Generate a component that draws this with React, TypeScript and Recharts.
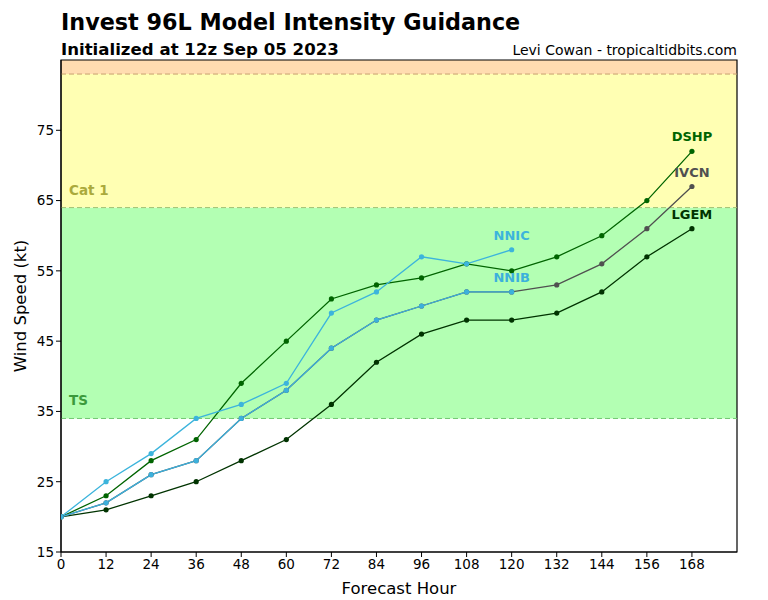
import { LineChart, Line, XAxis, YAxis, ReferenceArea, ReferenceLine, LabelList } from 'recharts';

const hours = [0, 12, 24, 36, 48, 60, 72, 84, 96, 108, 120, 132, 144, 156, 168];
const dshp = [20, 23, 28, 31, 39, 45, 51, 53, 54, 56, 55, 57, 60, 65, 72];
const ivcn = [20, 22, 26, 28, 34, 38, 44, 48, 50, 52, 52, 53, 56, 61, 67];
const lgem = [20, 21, 23, 25, 28, 31, 36, 42, 46, 48, 48, 49, 52, 57, 61];
const nnic = [20, 25, 29, 34, 36, 39, 49, 52, 57, 56, 58];
const nnib = [20, 22, 26, 28, 34, 38, 44, 48, 50, 52, 52];
const xTicks = [0, 12, 24, 36, 48, 60, 72, 84, 96, 108, 120, 132, 144, 156, 168];
const yTicks = [15, 25, 35, 45, 55, 65, 75];

const data = hours.map((h, i) => ({
  hour: h,
  DSHP: dshp[i],
  IVCN: ivcn[i],
  LGEM: lgem[i],
  NNIC: nnic[i],
  NNIB: nnib[i],
}));

const font = 'DejaVu Sans, sans-serif';

// label only the last point of each model
const endLabel = (name: string, color: string, count: number) => (props: any) => {
  if (props.index !== count - 1) return null;
  return (
    <text x={props.x} y={props.y - 10} textAnchor="middle" fill={color}
      fontFamily={font} fontSize={13} fontWeight="bold">
      {name}
    </text>
  );
};

const models = [
  { key: 'DSHP', color: '#006400', n: dshp.length },
  { key: 'LGEM', color: '#003300', n: lgem.length },
  { key: 'IVCN', color: '#505050', n: ivcn.length },
  { key: 'NNIC', color: '#3cb4dc', n: nnic.length },
  { key: 'NNIB', color: '#3cb0dc', n: nnib.length },
];

const yLabel = (props: any) => {
  const vb = props.viewBox;
  const cx = 20;
  const cy = vb.y + vb.height / 2;
  return (
    <text x={cx} y={cy} transform={`rotate(-90, ${cx}, ${cy})`} textAnchor="middle"
      dominantBaseline="central" fill="#000" fontSize={16.5} fontFamily={font}>
      Wind Speed (kt)
    </text>
  );
};

const xLabel = (props: any) => {
  const vb = props.viewBox;
  return (
    <text x={vb.x + vb.width / 2} y={594} textAnchor="middle" fill="#000" fontSize={16.5} fontFamily={font}>
      Forecast Hour
    </text>
  );
};

// band name just above a threshold line, near the left edge
const bandLabel = (text: string, color: string) => (props: any) => {
  const vb = props.viewBox;
  return (
    <text x={vb.x + 8} y={vb.y - 18} dominantBaseline="central" fill={color}
      fontSize={13.5} fontWeight="bold" fontFamily={font}>
      {text}
    </text>
  );
};

export default function App() {
  return (
    <div style={{ position: 'absolute', left: 0, top: 0, width: 768, height: 600, background: '#fff', fontFamily: font }}>
      <div style={{ position: 'absolute', left: 61, top: 9, fontSize: 22.3, fontWeight: 'bold', color: '#000' }}>
        Invest 96L Model Intensity Guidance
      </div>
      <div style={{ position: 'absolute', left: 61, top: 40, fontSize: 16.6, fontWeight: 'bold', color: '#000' }}>
        Initialized at 12z Sep 05 2023
      </div>
      <div style={{ position: 'absolute', right: 31, top: 42, fontSize: 14, color: '#000' }}>
        Levi Cowan - tropicaltidbits.com
      </div>
      <LineChart width={768} height={600} data={data}
        margin={{ top: 60, right: 31, bottom: 18, left: 21 }}
        style={{ position: 'absolute', left: 0, top: 0 }}>
        <XAxis dataKey="hour" type="number" domain={[0, 180]} ticks={xTicks} interval={0}
          allowDataOverflow height={30} tickSize={5} stroke="#000"
          tick={{ fill: '#000', fontSize: 13.5, fontFamily: font }}
          label={{ content: xLabel }} />
        <YAxis type="number" domain={[15, 85]} ticks={yTicks} interval={0} allowDataOverflow
          width={40} tickSize={5} stroke="#000"
          tick={{ fill: '#000', fontSize: 13.5, fontFamily: font }}
          label={{ content: yLabel }} />
        <ReferenceArea y1={34} y2={64} fill="#b3ffb3" fillOpacity={1} stroke="none" />
        <ReferenceArea y1={64} y2={83} fill="#ffffb3" fillOpacity={1} stroke="none" />
        <ReferenceArea y1={83} y2={85} fill="#ffdcb0" fillOpacity={1} stroke="none" />
        <ReferenceLine y={34} stroke="#70c870" strokeDasharray="5 3"
          label={{ content: bandLabel('TS', '#3c9a3c') }} />
        <ReferenceLine y={64} stroke="#a0c070" strokeDasharray="5 3"
          label={{ content: bandLabel('Cat 1', '#aaaa3c') }} />
        <ReferenceLine y={83} stroke="#c8a070" strokeDasharray="5 3" />
        {models.map((m) => (
          <Line key={m.key} dataKey={m.key} stroke={m.color} strokeWidth={1.3}
            dot={{ r: 2.6, fill: m.color, stroke: m.color, strokeWidth: 0 }}
            activeDot={false} isAnimationActive={false}>
            <LabelList dataKey={m.key} content={endLabel(m.key, m.color, m.n)} />
          </Line>
        ))}
        <ReferenceArea x1={0} x2={180} y1={15} y2={85} fill="none" stroke="#000" strokeWidth={1.2} ifOverflow="visible" />
      </LineChart>
    </div>
  );
}
